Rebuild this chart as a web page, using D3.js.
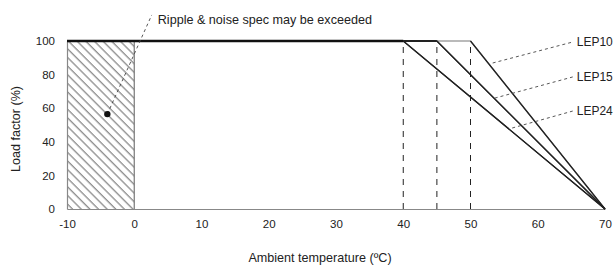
<!DOCTYPE html>
<html><head><meta charset="utf-8">
<script src="https://cdn.jsdelivr.net/npm/d3@7"></script>
<style>body{margin:0;background:#fff}svg{display:block}text{font-family:"Liberation Sans",Arial,sans-serif;fill:#222}</style>
</head><body><svg id="c" width="614" height="266"></svg>
<script>
const xTicks = [-10, 0, 10, 20, 30, 40, 50, 60, 70];
const yTicks = [0, 20, 40, 60, 80, 100];
const seriesNames = ["LEP10", "LEP15", "LEP24"];
const kneeTemps = [50, 45, 40];           // full load up to this temperature
const zeroTemp = 70;                      // load reaches 0 here
const fullLoad = 100;
const leaderFrom = [[53.3, 86.9], [53.6, 66.0], [56.2, 48.2]];
const leaderTo = [[65.2, 99.4], [65.2, 78.6], [65.2, 58.3]];
const hatchRange = [-10, 0];
const noteText = "Ripple & noise spec may be exceeded";
const noteDot = [-4.0, 56.5];
const noteEnd = [2.6, 115.5];

const svg = d3.select("#c");
const x = d3.scaleLinear().domain([-10, 70]).range([67, 605]);
const y = d3.scaleLinear().domain([0, 100]).range([209, 41]);
const fsTick = 11.5, fsLab = 12, fsTitle = 12.6;

// hatch pattern
const defs = svg.append("defs");
const pat = defs.append("pattern").attr("id", "hatch").attr("patternUnits", "userSpaceOnUse")
  .attr("width", 6.1).attr("height", 10).attr("patternTransform", "rotate(-45)");
pat.append("line").attr("x1", 1).attr("y1", 0).attr("x2", 1).attr("y2", 10)
  .attr("stroke", "#333").attr("stroke-width", 0.8);

svg.append("rect").attr("x", x(hatchRange[0])).attr("y", y(100))
  .attr("width", x(hatchRange[1]) - x(hatchRange[0])).attr("height", y(0) - y(100))
  .attr("fill", "url(#hatch)");

// axes
const ax = svg.append("g").attr("transform", `translate(0,${y(0)})`)
  .call(d3.axisBottom(x).tickValues(xTicks).tickSize(0).tickPadding(11).tickFormat(d => String(d)));
ax.select(".domain").attr("stroke", "#888").attr("stroke-width", 1.2);
ax.selectAll("text").attr("font-size", fsTick).attr("font-family", null).style("fill", "#222");
const ay = svg.append("g").attr("transform", `translate(${x(-10)},0)`)
  .call(d3.axisLeft(y).tickValues(yTicks).tickSize(0).tickPadding(12).tickFormat(d => String(d)));
ay.select(".domain").attr("stroke", "#888").attr("stroke-width", 1.2);
ay.selectAll("text").attr("font-size", fsTick).attr("font-family", null).style("fill", "#222");

// zero line
svg.append("line").attr("x1", x(0)).attr("x2", x(0)).attr("y1", y(0)).attr("y2", y(100))
  .attr("stroke", "#777").attr("stroke-width", 1.2);

// dashed verticals at knees
kneeTemps.forEach(k => {
  svg.append("line").attr("x1", x(k)).attr("x2", x(k)).attr("y1", y(0)).attr("y2", y(fullLoad))
    .attr("stroke", "#222").attr("stroke-width", 1).attr("stroke-dasharray", "6,6");
});

// series lines
const line = d3.line().x(d => x(d[0])).y(d => y(d[1]));
kneeTemps.forEach((k, i) => {
  svg.append("path").attr("d", line([[-10, fullLoad], [k, fullLoad], [zeroTemp, 0]]))
    .attr("fill", "none").attr("stroke", i === 0 ? "#777" : "#222").attr("stroke-width", 1.2);
});
kneeTemps.forEach(k => {
  svg.append("path").attr("d", line([[k, fullLoad], [zeroTemp, 0]]))
    .attr("fill", "none").attr("stroke", "#222").attr("stroke-width", 1.3);
});
svg.append("path").attr("d", line([[-10, fullLoad], [kneeTemps[2], fullLoad]]))
  .attr("fill", "none").attr("stroke", "#111").attr("stroke-width", 2.6);
svg.append("path").attr("d", line([[kneeTemps[2], fullLoad], [kneeTemps[1], fullLoad]]))
  .attr("fill", "none").attr("stroke", "#222").attr("stroke-width", 2);

// leaders and labels
seriesNames.forEach((n, i) => {
  svg.append("line").attr("x1", x(leaderFrom[i][0])).attr("y1", y(leaderFrom[i][1]))
    .attr("x2", x(leaderTo[i][0])).attr("y2", y(leaderTo[i][1]))
    .attr("stroke", "#444").attr("stroke-width", 0.9).attr("stroke-dasharray", "3,3");
  svg.append("text").attr("x", x(leaderTo[i][0]) + 4).attr("y", y(leaderTo[i][1]))
    .attr("dy", "0.35em").attr("font-size", fsLab).text(n);
});

// note
svg.append("line").attr("x1", x(noteDot[0])).attr("y1", y(noteDot[1]))
  .attr("x2", x(noteEnd[0])).attr("y2", y(noteEnd[1]))
  .attr("stroke", "#444").attr("stroke-width", 0.9).attr("stroke-dasharray", "3,3");
svg.append("circle").attr("cx", x(noteDot[0])).attr("cy", y(noteDot[1])).attr("r", 3.2).attr("fill", "#111");
svg.append("text").attr("x", x(noteEnd[0]) + 6).attr("y", 20).attr("dy", "0.35em")
  .attr("font-size", fsTitle).text(noteText);

// axis titles
svg.append("text").attr("x", 320).attr("y", 258).attr("dy", "0.35em").attr("text-anchor", "middle")
  .attr("font-size", fsTitle).text("Ambient temperature (ºC)");
svg.append("text").attr("transform", "translate(16,129) rotate(-90)").attr("dy", "0.35em")
  .attr("text-anchor", "middle").attr("font-size", fsTitle).text("Load factor (%)");
</script></body></html>
